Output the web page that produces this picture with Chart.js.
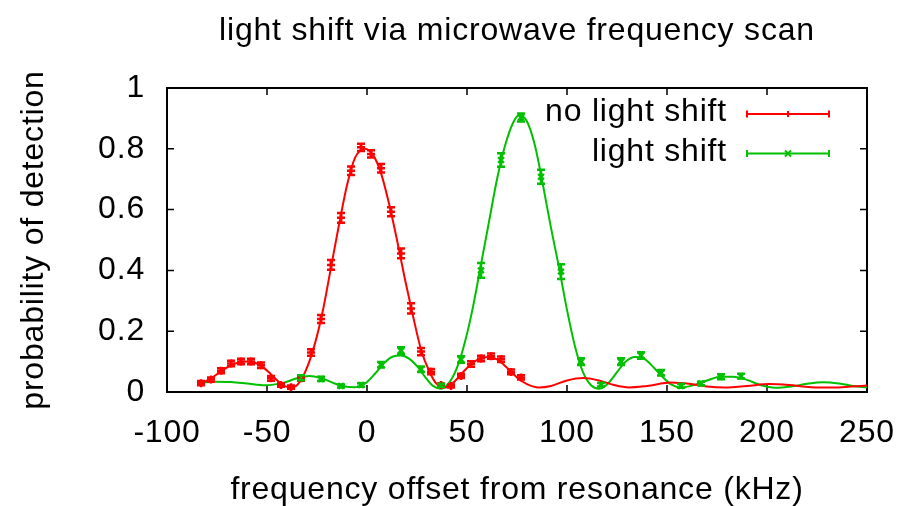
<!DOCTYPE html>
<html lang="en">
<head>
<meta charset="UTF-8">
<title>light shift via microwave frequency scan</title>
<script src="https://cdn.jsdelivr.net/npm/chart.js"></script>
<style>
    html, body { margin: 0; padding: 0; background: #fff; }
    #scanChart { display: block; }
</style>
</head>
<body>
<canvas id="scanChart" width="903" height="506"></canvas>
<script>
    // measured detection probability, no light shift (kHz, P, 1 sigma)
    const noShiftFreq = [-83, -78, -73, -68, -63, -58, -53, -48, -43, -38, -33, -28, -23, -18, -13, -8, -3,
        2, 7, 12, 17, 22, 27, 32, 37, 42, 47, 52, 57, 62, 67, 72, 77];
    const noShiftProb = [0.029, 0.041, 0.070, 0.094, 0.100, 0.100, 0.088, 0.045, 0.023, 0.016, 0.045, 0.130,
        0.240, 0.418, 0.573, 0.728, 0.805, 0.783, 0.736, 0.593, 0.456, 0.275, 0.133, 0.067, 0.023, 0.020,
        0.053, 0.092, 0.110, 0.118, 0.108, 0.066, 0.048];
    const noShiftErr = [0.007, 0.007, 0.008, 0.009, 0.009, 0.009, 0.009, 0.008, 0.006, 0.005, 0.008, 0.011,
        0.013, 0.016, 0.016, 0.014, 0.012, 0.012, 0.014, 0.015, 0.016, 0.017, 0.012, 0.009, 0.005, 0.005,
        0.007, 0.009, 0.009, 0.009, 0.009, 0.008, 0.007];

    // measured detection probability with the light shift applied
    const shiftFreq = [-33, -23, -13, -3, 7, 17, 27, 37, 47, 57, 67, 77, 87, 97, 107, 117, 127, 137, 147,
        157, 167, 177, 187];
    const shiftProb = [0.047, 0.043, 0.020, 0.023, 0.090, 0.136, 0.075, 0.022, 0.107, 0.400, 0.763, 0.903,
        0.708, 0.396, 0.100, 0.024, 0.100, 0.120, 0.063, 0.020, 0.028, 0.050, 0.052];
    const shiftErr = [0.008, 0.007, 0.005, 0.006, 0.009, 0.011, 0.009, 0.005, 0.011, 0.024, 0.022, 0.013,
        0.023, 0.024, 0.011, 0.006, 0.011, 0.011, 0.009, 0.006, 0.006, 0.008, 0.008];

    // fitted Rabi line shapes, sampled along the curves
    const noShiftFitFreq = [-83, -78, -73, -68, -63, -60, -56, -52, -48, -44, -40, -37, -34, -30, -26, -22,
        -18, -14, -10, -6, -1, 3, 7, 11, 15, 19, 23, 27, 31, 35, 39, 43, 48, 53, 58, 61, 65, 70, 75, 80, 86,
        92, 100, 108, 116, 124, 131, 140, 152, 162, 170, 179, 190, 201, 211, 222, 233, 242, 250];
    const noShiftFitProb = [0.028, 0.045, 0.068, 0.088, 0.099, 0.100, 0.096, 0.082, 0.058, 0.033, 0.017,
        0.016, 0.030, 0.080, 0.160, 0.270, 0.410, 0.550, 0.680, 0.770, 0.800, 0.780, 0.720, 0.620, 0.500,
        0.370, 0.250, 0.140, 0.070, 0.025, 0.015, 0.030, 0.065, 0.097, 0.113, 0.115, 0.107, 0.080, 0.048,
        0.026, 0.015, 0.020, 0.038, 0.046, 0.038, 0.022, 0.015, 0.020, 0.031, 0.026, 0.018, 0.015, 0.020,
        0.026, 0.023, 0.016, 0.015, 0.018, 0.021];
    const shiftFitFreq = [-83, -76, -68, -60, -51, -42, -35, -29, -23, -17, -11, -6, -1, 4, 9, 13, 17, 21,
        25, 29, 33, 37, 41, 45, 49, 53, 57, 61, 65, 69, 73, 76, 80, 84, 88, 92, 96, 100, 104, 108, 112, 116,
        120, 125, 129, 134, 138, 142, 147, 152, 157, 163, 170, 177, 183, 190, 197, 204, 212, 220, 228, 236,
        243, 250];
    const shiftFitProb = [0.031, 0.034, 0.033, 0.028, 0.022, 0.030, 0.045, 0.053, 0.046, 0.030, 0.018,
        0.016, 0.028, 0.060, 0.098, 0.117, 0.120, 0.110, 0.085, 0.050, 0.020, 0.011, 0.030, 0.080, 0.165,
        0.280, 0.420, 0.560, 0.700, 0.810, 0.885, 0.910, 0.890, 0.810, 0.680, 0.540, 0.410, 0.270, 0.150,
        0.065, 0.022, 0.011, 0.025, 0.065, 0.098, 0.115, 0.112, 0.090, 0.055, 0.025, 0.015, 0.022, 0.038,
        0.050, 0.050, 0.040, 0.022, 0.014, 0.018, 0.027, 0.032, 0.028, 0.020, 0.015];

    const xTicks = [-100, -50, 0, 50, 100, 150, 200, 250];
    const yTicks = [0, 0.2, 0.4, 0.6, 0.8, 1];

    const RED = '#ff0000';
    const GREEN = '#00c000';
    const FONT = '"Liberation Sans", Arial, Helvetica, sans-serif';

    function pairs(xs, ys) {
        return xs.map((v, i) => ({ x: v, y: ys[i] }));
    }

    // gnuplot-ish text is a touch wider than plain Arial
    const spacing = {
        id: 'spacing',
        beforeLayout(chart) { chart.ctx.letterSpacing = '0.8px'; },
        beforeDraw(chart) { chart.ctx.letterSpacing = '0.8px'; }
    };

    // closed border with inward ticks on all four sides
    const frame = {
        id: 'frame',
        beforeDatasetsDraw(chart) {
            const { ctx, chartArea: a, scales: { x, y } } = chart;
            ctx.save();
            ctx.strokeStyle = '#000';
            ctx.lineWidth = 1.5;
            ctx.beginPath();
            xTicks.forEach(v => {
                const px = x.getPixelForValue(v);
                ctx.moveTo(px, a.bottom); ctx.lineTo(px, a.bottom - 7);
                ctx.moveTo(px, a.top); ctx.lineTo(px, a.top + 7);
            });
            yTicks.forEach(v => {
                const py = y.getPixelForValue(v);
                ctx.moveTo(a.left, py); ctx.lineTo(a.left + 7, py);
                ctx.moveTo(a.right, py); ctx.lineTo(a.right - 7, py);
            });
            ctx.stroke();
            ctx.lineWidth = 2;
            ctx.strokeRect(a.left, a.top, a.width, a.height);
            ctx.restore();
        }
    };

    // vertical error bars with short caps
    const errorBars = {
        id: 'errorBars',
        afterDatasetsDraw(chart) {
            const { ctx, chartArea: a, scales: { y } } = chart;
            ctx.save();
            ctx.beginPath();
            ctx.rect(a.left, a.top, a.width, a.height);
            ctx.clip();
            chart.data.datasets.forEach((ds, i) => {
                if (!ds.errors) return;
                const meta = chart.getDatasetMeta(i);
                ctx.strokeStyle = ds.borderColor;
                ctx.lineWidth = 2.5;
                meta.data.forEach((pt, j) => {
                    const v = ds.data[j].y, e = ds.errors[j];
                    const top = y.getPixelForValue(v + e);
                    const bot = y.getPixelForValue(v - e);
                    ctx.beginPath();
                    ctx.moveTo(pt.x, top); ctx.lineTo(pt.x, bot);
                    ctx.moveTo(pt.x - 4, top); ctx.lineTo(pt.x + 4, top);
                    ctx.moveTo(pt.x - 4, bot); ctx.lineTo(pt.x + 4, bot);
                    ctx.stroke();
                });
            });
            ctx.restore();
        }
    };

    // key in the top right corner: label first, then an errorbar sample
    const keyBox = {
        id: 'keyBox',
        afterDraw(chart) {
            const { ctx } = chart;
            const rows = chart.data.datasets.filter(ds => ds.errors);
            ctx.save();
            ctx.font = '32px ' + FONT;
            ctx.textAlign = 'right';
            ctx.textBaseline = 'alphabetic';
            rows.forEach((ds, i) => {
                const base = 121 + i * 39.5;
                const ly = base - 7;
                ctx.fillStyle = '#000';
                ctx.fillText(ds.label, 727, base);
                ctx.strokeStyle = ds.borderColor;
                ctx.lineWidth = 2;
                ctx.beginPath();
                ctx.moveTo(747, ly); ctx.lineTo(829, ly);
                ctx.moveTo(747, ly - 3.5); ctx.lineTo(747, ly + 3.5);
                ctx.moveTo(829, ly - 3.5); ctx.lineTo(829, ly + 3.5);
                ctx.stroke();
                const r = 3;
                ctx.beginPath();
                if (ds.pointStyle === 'crossRot') {
                    ctx.moveTo(788 - r, ly - r); ctx.lineTo(788 + r, ly + r);
                    ctx.moveTo(788 - r, ly + r); ctx.lineTo(788 + r, ly - r);
                } else {
                    ctx.moveTo(788, ly - r); ctx.lineTo(788, ly + r);
                }
                ctx.stroke();
            });
            ctx.restore();
        }
    };

    Chart.defaults.font.family = FONT;
    Chart.defaults.color = '#000';

    new Chart(document.getElementById('scanChart').getContext('2d'), {
        type: 'scatter',
        data: {
            datasets: [{
                label: 'no light shift',
                data: pairs(noShiftFreq, noShiftProb),
                errors: noShiftErr,
                borderColor: RED,
                backgroundColor: RED,
                pointStyle: 'cross',
                pointRadius: 4,
                borderWidth: 2.5
            }, {
                label: 'light shift',
                data: pairs(shiftFreq, shiftProb),
                errors: shiftErr,
                borderColor: GREEN,
                backgroundColor: GREEN,
                pointStyle: 'crossRot',
                pointRadius: 4,
                borderWidth: 2.5
            }, {
                label: 'no light shift fit',
                data: pairs(noShiftFitFreq, noShiftFitProb),
                showLine: true,
                cubicInterpolationMode: 'monotone',
                borderColor: RED,
                borderWidth: 2,
                pointRadius: 0
            }, {
                label: 'light shift fit',
                data: pairs(shiftFitFreq, shiftFitProb),
                showLine: true,
                cubicInterpolationMode: 'monotone',
                borderColor: GREEN,
                borderWidth: 2,
                pointRadius: 0
            }]
        },
        options: {
            responsive: false,
            animation: false,
            devicePixelRatio: 1,
            layout: { padding: { left: 0, right: 36, top: 0, bottom: 0 } },
            plugins: {
                legend: { display: false },
                tooltip: { enabled: false },
                title: {
                    display: true,
                    text: 'light shift via microwave frequency scan',
                    fullSize: false,
                    color: '#000',
                    font: { size: 32, weight: 'normal' },
                    padding: { top: 12, bottom: 37.6 }
                }
            },
            scales: {
                x: {
                    type: 'linear',
                    min: -100,
                    max: 250,
                    afterBuildTicks: s => { s.ticks = xTicks.map(v => ({ value: v })); },
                    afterFit: s => { s.height = 114; },
                    // gap above the labels comes from an undrawn tick mark, so it
                    // does not widen the right-hand padding
                    grid: { display: false, drawTicks: true, tickLength: 22 },
                    border: { display: false },
                    ticks: { font: { size: 32 }, padding: 0, maxRotation: 0 },
                    title: {
                        display: true,
                        text: 'frequency offset from resonance (kHz)',
                        font: { size: 32 },
                        padding: { top: 0, bottom: -3 }
                    }
                },
                y: {
                    type: 'linear',
                    min: 0,
                    max: 1,
                    afterBuildTicks: s => { s.ticks = yTicks.map(v => ({ value: v })); },
                    afterFit: s => { s.width = 167; },
                    grid: { display: false, drawTicks: false },
                    border: { display: false },
                    ticks: { font: { size: 32 }, padding: 22, callback: v => String(v) },
                    title: {
                        display: true,
                        text: 'probability of detection',
                        font: { size: 32 },
                        padding: { top: 15, bottom: 0 }
                    }
                }
            }
        },
        plugins: [spacing, frame, errorBars, keyBox]
    });
</script>
</body>
</html>
